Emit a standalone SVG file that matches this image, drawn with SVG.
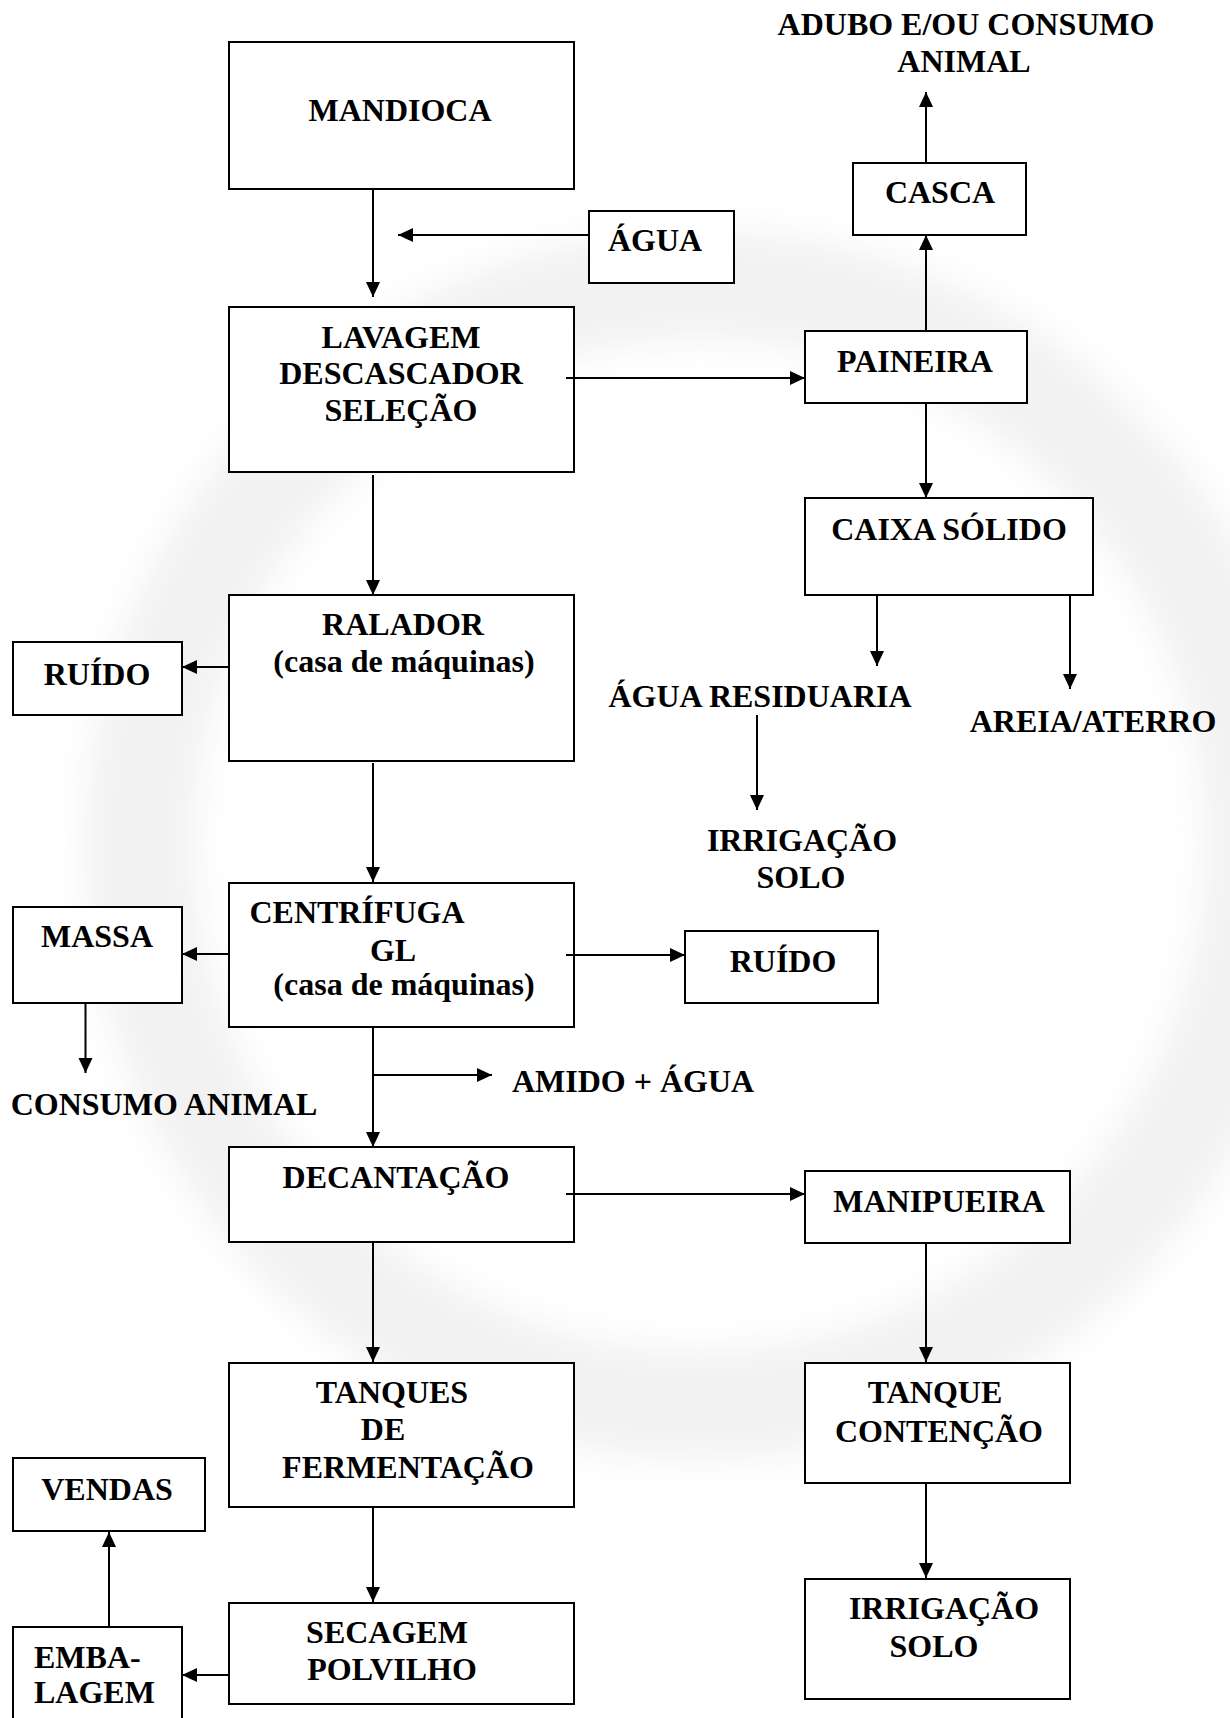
<svg xmlns="http://www.w3.org/2000/svg" width="1230" height="1718" viewBox="0 0 1230 1718">
<style>
.box{fill:#fff;stroke:#000;stroke-width:2}
.t{font-family:"Liberation Serif","Times New Roman",serif;font-weight:bold;font-size:32px;fill:#000;text-anchor:middle}
.s{text-anchor:start}
.c{stroke:#000;stroke-width:2;fill:none;marker-end:url(#ah)}
</style>
<defs>
<marker id="ah" markerUnits="userSpaceOnUse" markerWidth="16" markerHeight="15" refX="15" refY="7" orient="auto">
<path d="M0,0 L15,7 L0,14 z" fill="#000"/>
</marker>
<filter id="blur"><feGaussianBlur stdDeviation="18"/></filter>
</defs>
<rect width="1230" height="1718" fill="#fff"/>
<g id="watermark" filter="url(#blur)">
<circle cx="700" cy="845" r="560" fill="none" stroke="#f2f2f2" stroke-width="110"/>
</g>
<g id="nodes">
<g id="mandioca"><rect class="box" x="229" y="42" width="345" height="147"/><text class="t" x="400" y="121">MANDIOCA</text></g>
<g id="agua"><rect class="box" x="589" y="211" width="145" height="72"/><text class="t" x="655" y="251">ÁGUA</text></g>
<g id="lavagem"><rect class="box" x="229" y="307" width="345" height="165"/>
<text class="t" x="401" y="348">LAVAGEM</text><text class="t" x="401" y="384">DESCASCADOR</text><text class="t" x="401" y="421">SELEÇÃO</text></g>
<g id="paineira"><rect class="box" x="805" y="331" width="222" height="72"/><text class="t" x="915" y="372">PAINEIRA</text></g>
<g id="casca"><rect class="box" x="853" y="163" width="173" height="72"/><text class="t" x="940" y="203">CASCA</text></g>
<g id="adubo"><text class="t" x="966" y="35">ADUBO E/OU CONSUMO</text><text class="t" x="964" y="72">ANIMAL</text></g>
<g id="caixa"><rect class="box" x="805" y="498" width="288" height="97"/><text class="t" x="949" y="540">CAIXA SÓLIDO</text></g>
<g id="aguares"><text class="t" x="760" y="707">ÁGUA RESIDUARIA</text></g>
<g id="areia"><text class="t" x="1093" y="732">AREIA/ATERRO</text></g>
<g id="irrig1"><text class="t" x="802" y="851">IRRIGAÇÃO</text><text class="t" x="801" y="888">SOLO</text></g>
<g id="ralador"><rect class="box" x="229" y="595" width="345" height="166"/>
<text class="t" x="403" y="635">RALADOR</text><text class="t" x="404" y="672">(casa de máquinas)</text></g>
<g id="ruido1"><rect class="box" x="13" y="642" width="169" height="73"/><text class="t" x="97" y="685">RUÍDO</text></g>
<g id="centrifuga"><rect class="box" x="229" y="883" width="345" height="144"/>
<text class="t" x="357" y="923">CENTRÍFUGA</text><text class="t" x="393" y="961">GL</text><text class="t" x="404" y="995">(casa de máquinas)</text></g>
<g id="massa"><rect class="box" x="13" y="907" width="169" height="96"/><text class="t" x="97" y="947">MASSA</text></g>
<g id="ruido2"><rect class="box" x="685" y="931" width="193" height="72"/><text class="t" x="783" y="972">RUÍDO</text></g>
<g id="consumo"><text class="t" x="164" y="1115">CONSUMO ANIMAL</text></g>
<g id="amido"><text class="t" x="633" y="1092">AMIDO + ÁGUA</text></g>
<g id="decantacao"><rect class="box" x="229" y="1147" width="345" height="95"/><text class="t" x="396" y="1188">DECANTAÇÃO</text></g>
<g id="manipueira"><rect class="box" x="805" y="1171" width="265" height="72"/><text class="t" x="939" y="1212">MANIPUEIRA</text></g>
<g id="tanques"><rect class="box" x="229" y="1363" width="345" height="144"/>
<text class="t" x="392" y="1403">TANQUES</text><text class="t" x="383" y="1440">DE</text><text class="t" x="408" y="1478">FERMENTAÇÃO</text></g>
<g id="contencao"><rect class="box" x="805" y="1363" width="265" height="120"/>
<text class="t" x="935" y="1403">TANQUE</text><text class="t" x="939" y="1442">CONTENÇÃO</text></g>
<g id="irrig2"><rect class="box" x="805" y="1579" width="265" height="120"/>
<text class="t" x="944" y="1619">IRRIGAÇÃO</text><text class="t" x="934" y="1657">SOLO</text></g>
<g id="secagem"><rect class="box" x="229" y="1603" width="345" height="101"/>
<text class="t" x="387" y="1643">SECAGEM</text><text class="t" x="392" y="1680">POLVILHO</text></g>
<g id="embalagem"><rect class="box" x="13" y="1627" width="169" height="100"/>
<text class="t s" x="34" y="1668">EMBA-</text><text class="t s" x="34" y="1703">LAGEM</text></g>
<g id="vendas"><rect class="box" x="13" y="1458" width="192" height="73"/><text class="t" x="107" y="1500">VENDAS</text></g>
</g>
<g id="connectors">
<path class="c" d="M373,189 V297"/>
<path class="c" d="M589,235 H398"/>
<path class="c" d="M566,378 H805"/>
<path class="c" d="M926,331 V235"/>
<path class="c" d="M926,163 V92"/>
<path class="c" d="M926,403 V498"/>
<path class="c" d="M877,595 V666"/>
<path class="c" d="M1070,595 V689"/>
<path class="c" d="M757,715 V810"/>
<path class="c" d="M373,475 V595"/>
<path class="c" d="M229,667 H182"/>
<path class="c" d="M373,763 V882"/>
<path class="c" d="M229,954 H182"/>
<path class="c" d="M566,955 H685"/>
<path class="c" d="M85.5,1003 V1073"/>
<path class="c" d="M373,1027 V1147"/>
<path class="c" d="M373,1075 H492"/>
<path class="c" d="M566,1194 H805"/>
<path class="c" d="M926,1243 V1362"/>
<path class="c" d="M373,1242 V1362"/>
<path class="c" d="M926,1483 V1578"/>
<path class="c" d="M373,1507 V1602"/>
<path class="c" d="M229,1675 H182"/>
<path class="c" d="M109,1627 V1532"/>
</g>
</svg>
